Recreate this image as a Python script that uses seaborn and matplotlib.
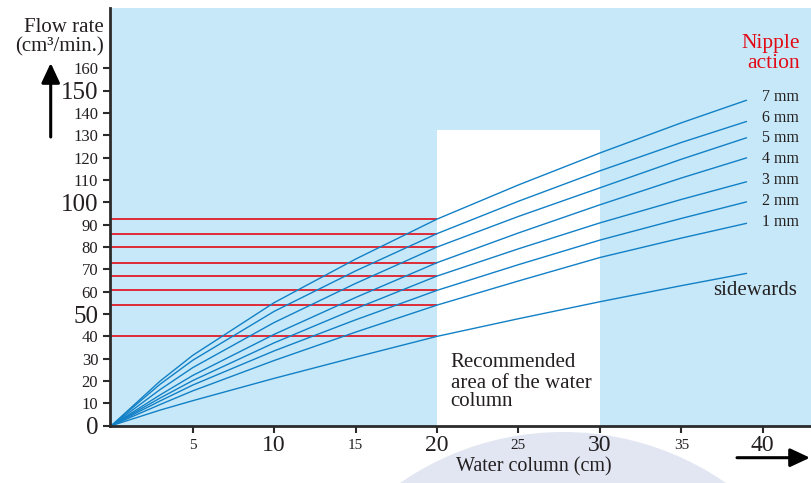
import numpy as np
import pandas as pd
import matplotlib
matplotlib.use("Agg")
import matplotlib.pyplot as plt
import seaborn as sns
from matplotlib.patches import Rectangle, Circle

# ---------------- data ----------------
water_column = [0, 3, 5, 10, 15, 20, 25, 30, 35, 39]
flow_7mm = [0, 20.0, 31.5, 55.1, 74.6, 92.5, 107.8, 122.1, 135.6, 145.7]
flow_6mm = [0, 18.6, 29.3, 51.2, 69.3, 86.0, 100.5, 114.1, 126.8, 136.2]
flow_5mm = [0, 16.2, 26.0, 46.2, 63.7, 80.0, 93.7, 106.5, 119.3, 128.9]
flow_4mm = [0, 13.8, 22.5, 40.9, 57.4, 73.0, 86.3, 98.9, 110.9, 119.9]
flow_3mm = [0, 12.4, 20.2, 37.1, 52.4, 67.0, 79.2, 90.8, 101.3, 109.2]
flow_2mm = [0, 11.1, 18.2, 33.5, 47.4, 60.6, 72.1, 83.1, 92.8, 100.2]
flow_1mm = [0, 9.5, 15.6, 29.2, 41.9, 54.0, 64.8, 75.3, 84.0, 90.6]
flow_sidewards = [0, 7.0, 11.2, 21.2, 30.7, 40.0, 47.9, 55.5, 62.7, 68.2]

series_names = ["7 mm", "6 mm", "5 mm", "4 mm", "3 mm", "2 mm", "1 mm", "sidewards"]
series_values = [flow_7mm, flow_6mm, flow_5mm, flow_4mm, flow_3mm, flow_2mm, flow_1mm, flow_sidewards]

red_levels = [92.5, 86, 80, 73, 67, 60.6, 54, 40]
recommended_range = [20, 30]
recommended_top = 132.3

x_ticks = [5, 10, 15, 20, 25, 30, 35, 40]
x_tick_labels = ["5", "10", "15", "20", "25", "30", "35", "40"]
y_ticks = list(range(0, 170, 10))
y_tick_labels = [str(v) for v in y_ticks]
big_x_labels = {"10", "20", "30", "40"}
big_y_labels = {"0", "50", "100", "150"}

# label placement (text positions in data units)
mm_label_y = [147.3, 137.6, 128.9, 119.5, 109.9, 100.6, 91.3]

# ---------------- style ----------------
sns.set_style("white")
plt.rcParams["font.family"] = ["Liberation Serif", "DejaVu Serif"]
TXT = "#231f20"
BLUE_LINE = "#1280c6"
BG = "#c6e8f8"
RED = "#e30a17"

W, H = 812, 483
fig = plt.figure(figsize=(W / 100, H / 100), dpi=100)
fig.patch.set_facecolor("white")
ax = fig.add_axes([110 / W, 57 / H, 702 / W, 418 / H])
ax.set_facecolor(BG)

# decorative circle below the axis
fig.add_artist(Circle((5.63, -2.35), 2.86, transform=fig.dpi_scale_trans,
                      facecolor="#e1e6f2", edgecolor="none", zorder=-1))

# recommended area
ax.add_patch(Rectangle((recommended_range[0], 0),
                       recommended_range[1] - recommended_range[0], recommended_top,
                       facecolor="white", edgecolor="none", zorder=1))

xmin, xmax = -0.08, 43.02
ymin, ymax = -0.13, 187.0

# red guide lines
ax.hlines(red_levels, xmin, recommended_range[0], colors=RED, lw=1.2, zorder=2)

# curves
df = pd.DataFrame({
    "water_column": np.tile(water_column, len(series_names)),
    "flow": np.concatenate(series_values),
    "series": np.repeat(series_names, len(water_column)),
})
sns.lineplot(data=df, x="water_column", y="flow", hue="series",
             hue_order=series_names, palette=[BLUE_LINE] * len(series_names),
             legend=False, lw=1.0, ax=ax, sort=False, estimator=None, zorder=3)

ax.set_xlim(xmin, xmax)
ax.set_ylim(ymin, ymax)
ax.set_xlabel("")
ax.set_ylabel("")

for s in ["top", "right"]:
    ax.spines[s].set_visible(False)
for s in ["left", "bottom"]:
    ax.spines[s].set_linewidth(2.0)
    ax.spines[s].set_color("#2b2b2b")
    ax.spines[s].set_zorder(5)

ax.set_xticks(x_ticks)
ax.set_xticklabels(x_tick_labels)
ax.set_yticks(y_ticks)
ax.set_yticklabels(y_tick_labels)
ax.tick_params(axis="both", bottom=True, left=True, direction="out", length=5,
               width=1.5, color="#2b2b2b", labelcolor=TXT)
ax.tick_params(axis="x", pad=9)
ax.tick_params(axis="y", pad=3.5)
for lab in ax.get_xticklabels():
    lab.set_fontsize(17 if lab.get_text() in big_x_labels else 11)
    lab.set_verticalalignment("center")
for lab in ax.get_yticklabels():
    lab.set_fontsize(18 if lab.get_text() in big_y_labels else 12)

# series labels
for name, yv in zip(series_names[:-1], mm_label_y):
    ax.text(39.94, yv, name, fontsize=11.5, color=TXT,
            ha="left", va="center", zorder=6)
ax.text(36.93, 60.7, "sidewards", fontsize=15, color=TXT, ha="left", va="center", zorder=6)

ax.text(42.29, 171.2, "Nipple", fontsize=15.5, color=RED, ha="right", va="center", zorder=6)
ax.text(42.29, 162.2, "action", fontsize=15.5, color=RED, ha="right", va="center", zorder=6)

for txt, yv in zip(["Recommended", "area of the water", "column"], [28.2, 19.0, 10.7]):
    ax.text(20.84, yv, txt, fontsize=15, color=TXT, ha="left", va="center", zorder=6)

# axis titles
fig.text(104 / W, 1 - 28 / H, "Flow rate", fontsize=15, color=TXT, ha="right", va="center")
fig.text(104 / W, 1 - 47 / H, "(cm³/min.)", fontsize=15, color=TXT, ha="right", va="center")
fig.text(533.8 / W, 1 - 467 / H, "Water column (cm)", fontsize=14.5, color=TXT,
         ha="center", va="center")

# arrows
arrow_style = "-|>,head_length=0.6,head_width=0.28"
ax.annotate("", xy=(50.7, H - 63), xytext=(50.7, H - 137), xycoords="figure pixels",
            textcoords="figure pixels",
            arrowprops=dict(arrowstyle=arrow_style, lw=2.2, color="black",
                            mutation_scale=20, shrinkA=0, shrinkB=0),
            annotation_clip=False)
ax.annotate("", xy=(810, H - 457.7), xytext=(737, H - 457.7), xycoords="figure pixels",
            textcoords="figure pixels",
            arrowprops=dict(arrowstyle=arrow_style, lw=2.2, color="black",
                            mutation_scale=20, shrinkA=0, shrinkB=0),
            annotation_clip=False)

fig.savefig("out.png", dpi=100)
